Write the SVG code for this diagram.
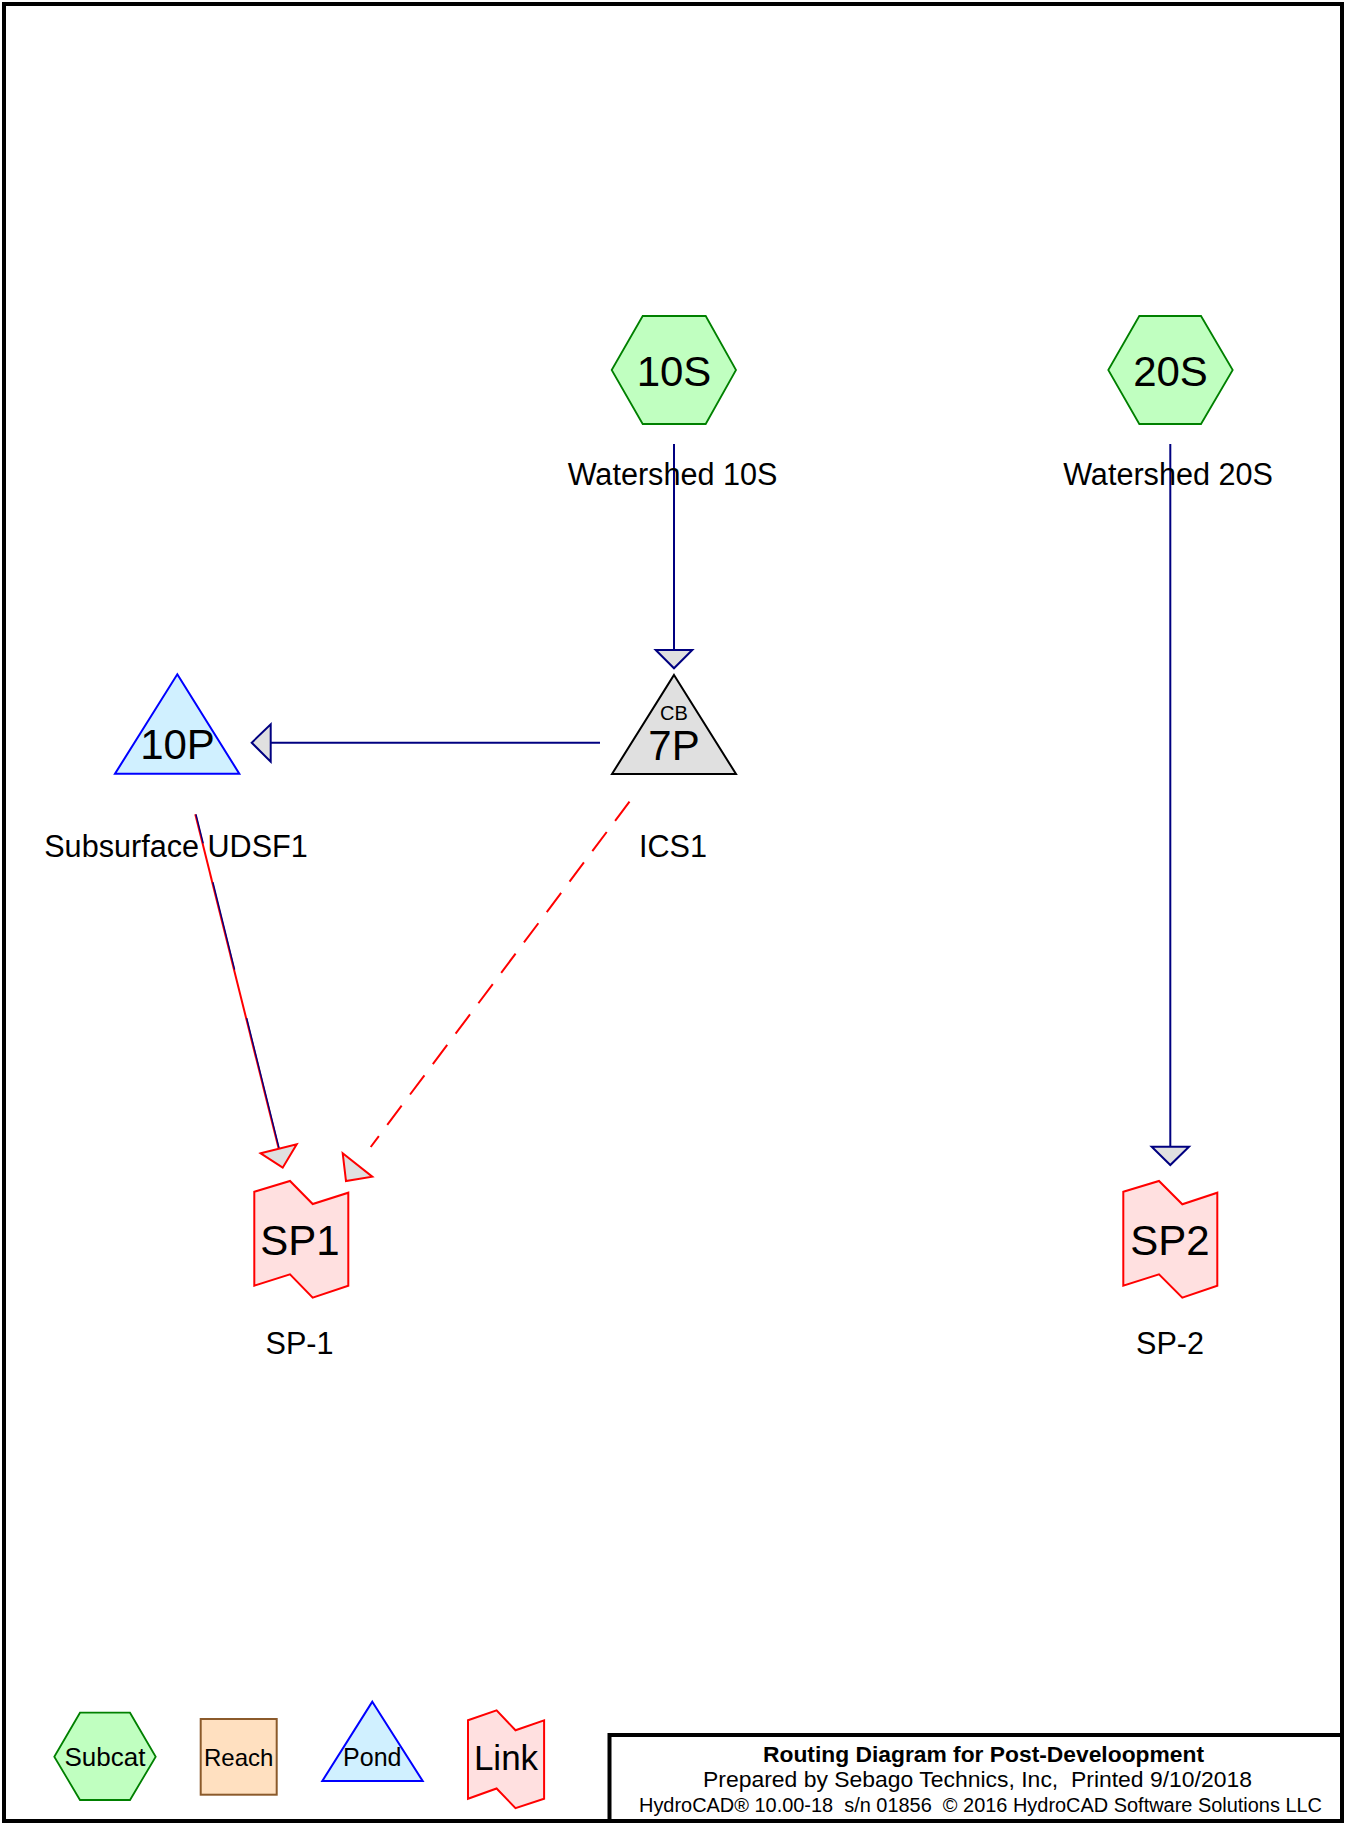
<svg xmlns="http://www.w3.org/2000/svg" width="1345" height="1825" viewBox="0 0 1345 1825">
<style>
text{font-family:"Liberation Sans",Arial,sans-serif;fill:#000;white-space:pre}
.subcat{fill:#c0ffc0;stroke:#008000;stroke-width:1.8}
.pond{fill:#d0f0ff;stroke:#0000ff;stroke-width:2}
.cb{fill:#e0e0e0;stroke:#000;stroke-width:2}
.link{fill:#ffe0e0;stroke:#ff0000;stroke-width:2}
.reach{fill:#ffe0c0;stroke:#8b5a2b;stroke-width:2}
.wire{stroke:#000080;stroke-width:2;fill:none}
.redwire{stroke:#ff0000;stroke-width:2;fill:none}
.arrB{fill:#e0e0e0;stroke:#000080;stroke-width:2}
.arrR{fill:#e0e0e0;stroke:#ff0000;stroke-width:2}
.id{font-size:42px;text-anchor:middle}
.lbl{font-size:30.6px;text-anchor:middle}
</style>
<rect x="0" y="0" width="1345" height="1825" fill="#fff"/>
<rect x="4" y="4" width="1338" height="1817" fill="none" stroke="#000" stroke-width="4"/>

<g id="connectors">
<line class="wire" x1="674" y1="444" x2="674" y2="650"/>
<polygon class="arrB" points="655.7,650 692.3,650 674,668.3"/>
<line class="wire" x1="600" y1="742.7" x2="270.7" y2="742.7"/>
<polygon class="arrB" points="270.7,724.3 270.7,761.7 251.7,742.7"/>
<line class="wire" x1="1170.3" y1="444" x2="1170.3" y2="1146.7"/>
<polygon class="arrB" points="1151.7,1146.7 1189,1146.7 1170.3,1165"/>
<line class="redwire" x1="195.3" y1="814.3" x2="278.7" y2="1148.8"/>
<line x1="196" y1="814.3" x2="279.2" y2="1148.6" stroke="#000080" stroke-width="1.4" stroke-dasharray="30 40 90 50 200"/>
<polygon class="arrR" points="260.7,1153.3 296.7,1144.3 282.7,1167.7"/>
<line class="redwire" x1="629.5" y1="801.6" x2="370.7" y2="1147" stroke-dasharray="24 14"/>
<polygon class="arrR" points="342.7,1153.3 372.3,1176.7 346,1181"/>
</g>

<g id="n10S">
<polygon class="subcat" points="611.7,370 642.7,316 705.7,316 736,370 705.7,424 642.7,424"/>
<text class="id" x="674" y="386">10S</text>
<text class="lbl" x="672.5" y="485">Watershed 10S</text>
</g>

<g id="n20S">
<polygon class="subcat" points="1108.3,370 1139.3,316 1201,316 1232.7,370 1201,424 1139.3,424"/>
<text class="id" x="1170.5" y="386">20S</text>
<text class="lbl" x="1168" y="485">Watershed 20S</text>
</g>

<g id="n7P">
<polygon class="cb" points="674,675 736,774 612,774"/>
<text x="674" y="720" font-size="20" text-anchor="middle">CB</text>
<text class="id" x="674" y="760" font-size="41">7P</text>
<text class="lbl" x="673" y="857">ICS1</text>
</g>

<g id="n10P">
<polygon class="pond" points="177.3,674.3 239.3,773.7 115,773.7"/>
<text class="id" x="177.5" y="759">10P</text>
<text class="lbl" x="176" y="857">Subsurface UDSF1</text>
</g>

<g id="nSP1">
<polygon class="link" points="254.3,1191.7 290,1181 312.7,1204 348.3,1192.7 348.3,1285.7 312.7,1297.7 290,1274.3 254.3,1285.7"/>
<text class="id" x="300" y="1255">SP1</text>
<text class="lbl" x="299.5" y="1354">SP-1</text>
</g>

<g id="nSP2">
<polygon class="link" points="1123.3,1191.7 1159,1181 1182.3,1204.3 1217.3,1192.7 1217.3,1285.7 1182.3,1297.7 1159,1274.3 1123.3,1285.7"/>
<text class="id" x="1170" y="1255">SP2</text>
<text class="lbl" x="1170" y="1354">SP-2</text>
</g>

<g id="legend">
<g id="legSubcat">
<polygon class="subcat" points="54.3,1756.7 80,1712.7 130,1712.7 155.7,1756.7 130,1800 80,1800"/>
<text x="105" y="1766" font-size="26" text-anchor="middle">Subcat</text>
</g>
<g id="legReach">
<rect class="reach" x="200.7" y="1719" width="76" height="75.7"/>
<text x="238.7" y="1766" font-size="24" text-anchor="middle">Reach</text>
</g>
<g id="legPond">
<polygon class="pond" points="372.3,1701.7 422.7,1781 322.3,1781"/>
<text x="372.3" y="1766" font-size="25" text-anchor="middle">Pond</text>
</g>
<g id="legLink">
<polygon class="link" points="468,1720.3 496.6,1710.3 515.5,1730.3 544.1,1720.3 544.1,1798.8 515.5,1808.1 496.6,1788.5 468,1798.8"/>
<text x="506" y="1770" font-size="35" text-anchor="middle">Link</text>
</g>
</g>

<g id="titleblock">
<rect x="609.5" y="1735" width="732.5" height="86" fill="#fff" stroke="#000" stroke-width="4"/>
<text x="763" y="1761.5" font-size="22" font-weight="bold" textLength="441" lengthAdjust="spacingAndGlyphs">Routing Diagram for Post-Develoopment</text>
<text x="703" y="1787" font-size="22" textLength="549" lengthAdjust="spacingAndGlyphs">Prepared by Sebago Technics, Inc,  Printed 9/10/2018</text>
<text x="639" y="1811.5" font-size="20" textLength="683" lengthAdjust="spacingAndGlyphs">HydroCAD® 10.00-18  s/n 01856  © 2016 HydroCAD Software Solutions LLC</text>
</g>
</svg>
